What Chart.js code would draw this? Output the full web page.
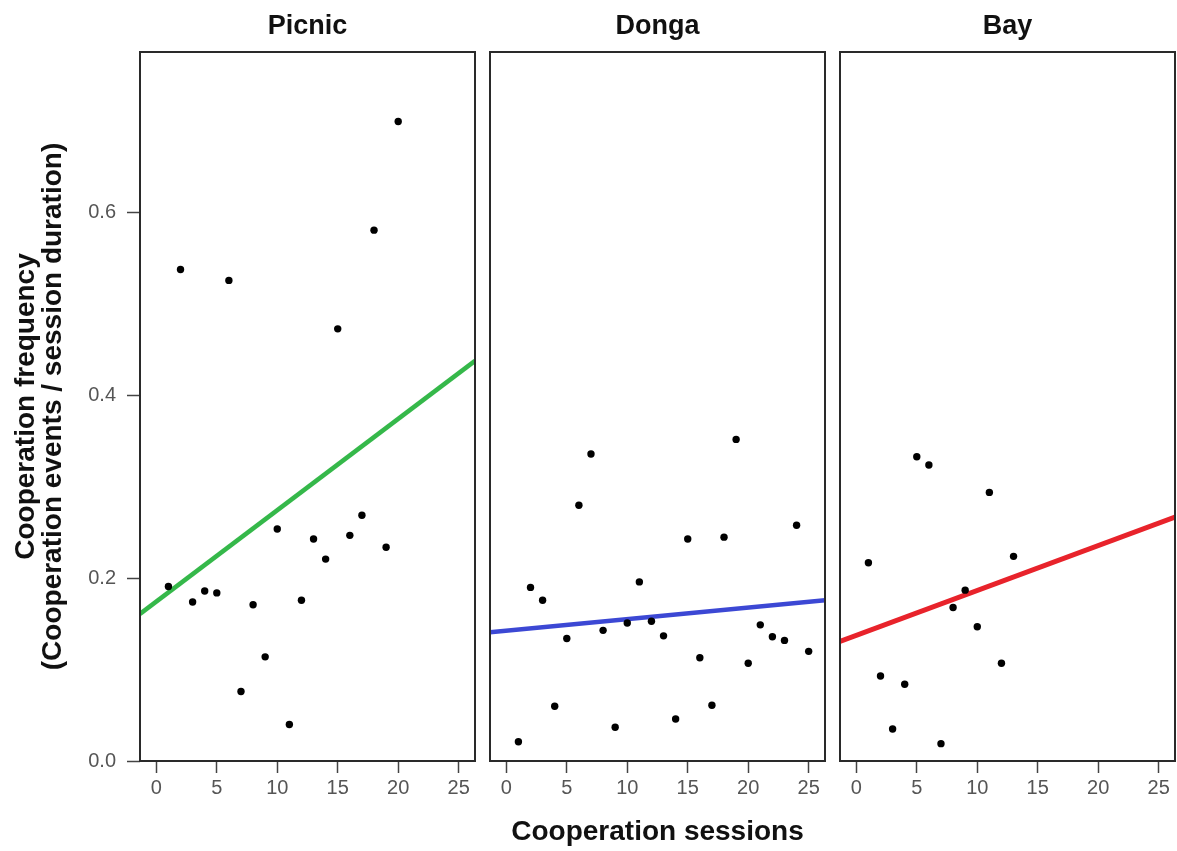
<!DOCTYPE html>
<html lang="en">
<head>
<meta charset="UTF-8">
<title>Cooperation frequency by session</title>
<script src="https://cdn.jsdelivr.net/npm/chart.js"></script>
<style>
    body {
        margin: 0;
        background: #ffffff;
        font-family: "Liberation Sans", Arial, sans-serif;
    }
    #wrap {
        position: relative;
        width: 1177px;
        height: 851px;
    }
    .panel {
        position: absolute;
        top: 0;
        height: 851px;
    }
</style>
</head>
<body>
<div id="wrap">
    <div class="panel" style="left:0;width:477px"><canvas id="picnic"></canvas></div>
    <div class="panel" style="left:488px;width:339px"><canvas id="donga"></canvas></div>
    <div class="panel" style="left:838px;width:339px"><canvas id="bay"></canvas></div>
</div>
<script>
// data
const picnicSessions = [1, 2, 3, 4, 5, 6, 7, 8, 9, 10, 11, 12, 13, 14, 15, 16, 17, 18, 19, 20];
const picnicFreq = [0.191, 0.538, 0.174, 0.186, 0.184, 0.526, 0.076, 0.171, 0.114, 0.254,
                    0.040, 0.176, 0.243, 0.221, 0.473, 0.247, 0.269, 0.581, 0.234, 0.700];

const dongaSessions = [1, 2, 3, 4, 5, 6, 7, 8, 9, 10, 11, 12, 13, 14, 15, 16, 17, 18, 19, 20, 21, 22, 23, 24, 25];
const dongaFreq = [0.021, 0.190, 0.176, 0.060, 0.134, 0.280, 0.336, 0.143, 0.037, 0.151,
                   0.196, 0.153, 0.137, 0.046, 0.243, 0.113, 0.061, 0.245, 0.352, 0.107,
                   0.149, 0.136, 0.132, 0.258, 0.120];

const baySessions = [1, 2, 3, 4, 5, 6, 7, 8, 9, 10, 11, 12, 13];
const bayFreq = [0.217, 0.093, 0.035, 0.084, 0.333, 0.324, 0.019, 0.168, 0.187, 0.147, 0.294, 0.107, 0.224];

// fitted lines, read at the two panel edges
const fitX = [-1.35, 26.35];
const picnicFit = [0.161, 0.438];
const dongaFit = [0.141, 0.176];
const bayFit = [0.131, 0.267];

const xTicks = [0, 5, 10, 15, 20, 25];
const yTicks = [0.0, 0.2, 0.4, 0.6];

const X_MIN = -1.35, X_MAX = 26.35;
const Y_MIN = 0, Y_MAX = 0.776;

Chart.defaults.font.family = '"Liberation Sans", Arial, Helvetica, sans-serif';

// black box round each panel
const framePlugin = {
    id: 'frame',
    afterDatasetsDraw(chart) {
        const a = chart.chartArea;
        const ctx = chart.ctx;
        ctx.save();
        ctx.strokeStyle = '#2a2a2a';
        ctx.lineWidth = 2;
        ctx.strokeRect(a.left, a.top, a.right - a.left, a.bottom - a.top);
        ctx.restore();
    }
};

function pts(xs, ys) {
    return xs.map((x, i) => ({ x: x, y: ys[i] }));
}

function makePanel(id, name, xs, ys, fit, color, lineWidth, showY, showXTitle) {
    new Chart(document.getElementById(id), {
        type: 'scatter',
        data: {
            datasets: [
                {
                    data: pts(xs, ys),
                    backgroundColor: '#000000',
                    borderWidth: 0,
                    pointRadius: 3.7
                },
                {
                    type: 'line',
                    data: pts(fitX, fit),
                    borderColor: color,
                    borderWidth: lineWidth,
                    pointRadius: 0,
                    fill: false
                }
            ]
        },
        options: {
            responsive: true,
            maintainAspectRatio: false,
            animation: false,
            layout: { padding: { left: showY ? 0 : 2, right: 2, top: 0, bottom: 0 }, autoPadding: false },
            plugins: {
                legend: { display: false },
                tooltip: { enabled: false }
            },
            scales: {
                x: {
                    type: 'linear',
                    position: 'bottom',
                    min: X_MIN,
                    max: X_MAX,
                    afterBuildTicks: s => { s.ticks = xTicks.map(v => ({ value: v })); },
                    ticks: { color: '#555', font: { size: 20 }, padding: 3 },
                    grid: { drawOnChartArea: false, tickLength: 12, tickColor: '#444', tickWidth: 1.5 },
                    border: { display: false },
                    title: {
                        display: showXTitle,
                        text: 'Cooperation sessions',
                        color: '#111',
                        font: { size: 28, weight: 'bold' },
                        padding: { top: 0, bottom: 2 }
                    },
                    afterFit: s => {
                        s.height = 90;
                        s.paddingLeft = 0;
                        s.paddingRight = 0;
                    }
                },
                top: {
                    type: 'linear',
                    position: 'top',
                    min: X_MIN,
                    max: X_MAX,
                    ticks: { display: false },
                    grid: { display: false },
                    border: { display: false },
                    title: {
                        display: true,
                        text: name,
                        color: '#111',
                        font: { size: 27, weight: 'bold', lineHeight: 1.2 },
                        padding: { top: 10, bottom: 0 }
                    },
                    afterFit: s => {
                        s.height = 52;
                        s.paddingLeft = 0;
                        s.paddingRight = 0;
                    }
                },
                y: {
                    type: 'linear',
                    display: showY,
                    min: Y_MIN,
                    max: Y_MAX,
                    afterBuildTicks: s => { s.ticks = yTicks.map(v => ({ value: v })); },
                    ticks: {
                        color: '#555',
                        font: { size: 20 },
                        padding: 11,
                        callback: v => v.toFixed(1)
                    },
                    grid: { drawOnChartArea: false, tickLength: 13, tickColor: '#444', tickWidth: 1.5 },
                    border: { display: false },
                    title: {
                        display: true,
                        text: ['Cooperation frequency', '(Cooperation events / session duration)'],
                        color: '#111',
                        font: { size: 28, weight: 'bold', lineHeight: 0.97 },
                        padding: { top: 13, bottom: 0 }
                    },
                    afterFit: s => {
                        s.width = showY ? 140 : 0;
                        s.paddingTop = 0;
                        s.paddingBottom = 0;
                    }
                }
            }
        },
        plugins: [framePlugin]
    });
}

makePanel('picnic', 'Picnic', picnicSessions, picnicFreq, picnicFit, '#35b84a', 4.5, true, false);
makePanel('donga', 'Donga', dongaSessions, dongaFreq, dongaFit, '#3c48d4', 4.5, false, true);
makePanel('bay', 'Bay', baySessions, bayFreq, bayFit, '#e8232b', 5, false, false);
</script>
</body>
</html>
